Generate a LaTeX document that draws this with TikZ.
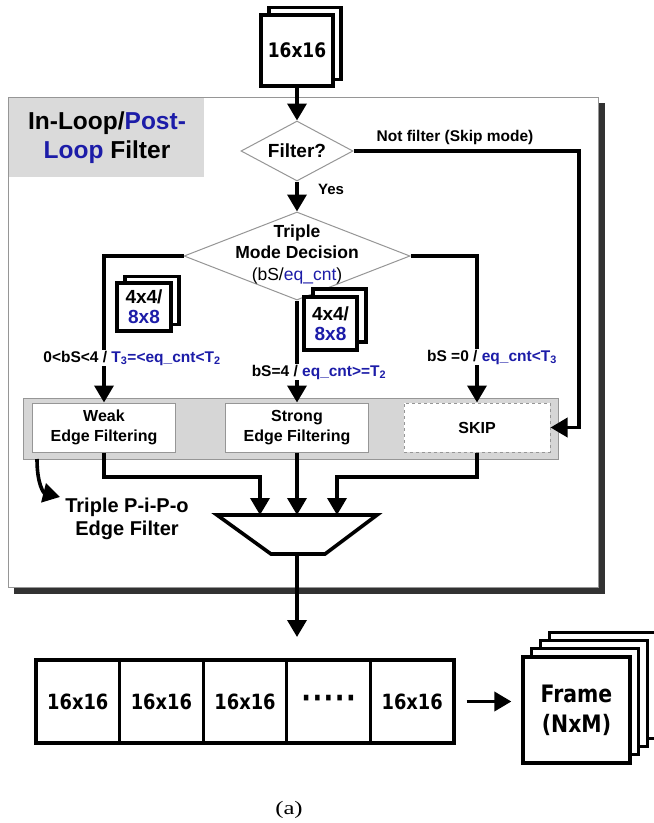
\documentclass[tikz,border=0pt]{standalone}
\usepackage{fontspec}
\setmainfont{Liberation Sans}
\newfontfamily\vfont[FakeStretch=0.85]{DejaVu Sans}
\newfontfamily\capfont[FakeStretch=1.3]{Liberation Serif}
\usetikzlibrary{arrows.meta,shapes.geometric}
\definecolor{blu}{RGB}{28,28,168}
\definecolor{bandgray}{RGB}{214,214,214}
\definecolor{titlegray}{RGB}{218,218,218}
\definecolor{edgegray}{RGB}{150,150,150}
\definecolor{shadowgray}{RGB}{50,50,50}
\tikzset{
  flow/.style={line width=3.6pt,-{Triangle[length=17pt,width=19pt]}},
  stk/.style={draw,line width=3.2pt,fill=white,inner sep=0pt,align=center},
  dia/.style={diamond,draw=edgegray,line width=1pt,fill=white,inner sep=0pt,aspect=2},
  fbox/.style={draw=edgegray,line width=1pt,fill=white,minimum width=143pt,minimum height=49pt,inner sep=0pt,align=center,font=\bfseries\fontsize{16}{20}\selectfont},
  lab/.style={fill=white,inner sep=1pt,font=\bfseries\fontsize{15.5}{18}\selectfont},
  cell/.style={draw,line width=3.2pt,fill=white,minimum width=83.6pt,minimum height=83pt,inner sep=0pt,font=\vfont\bfseries\fontsize{21}{25}\selectfont},
}
\begin{document}
\begin{tikzpicture}[x=1pt,y=-1pt]
\useasboundingbox (0,0) rectangle (654,823);
% outer box with shadow
\fill[shadowgray] (14,103) rectangle (605,594);
\draw[draw=edgegray,fill=white,line width=1pt] (8,97) rectangle (598,587);
\fill[titlegray] (8.5,97.5) rectangle (204,177);
\node[font=\bfseries\fontsize{24.5}{29}\selectfont,align=center] (title) at (107,138)
  {In-Loop/\textcolor{blu}{Post-}\\\textcolor{blu}{Loop} Filter};
% band
\draw[draw=edgegray,fill=bandgray,line width=1pt] (23,398) rectangle (558,459);
% top stack
\node[stk,minimum width=72pt,minimum height=72pt] (in16b) at (305,43.5) {};
\node[stk,minimum width=72pt,minimum height=71pt,font=\vfont\bfseries\fontsize{20}{24}\selectfont] (in16) at (297,50.5) {16x16};
% diamonds
\node[dia,minimum width=112pt,minimum height=60pt,font=\bfseries\fontsize{19}{22}\selectfont] (filt) at (297,151) {Filter?};
\node[dia,minimum width=226pt,minimum height=88pt] (tmd) at (297,256) {};
\node[align=center,font=\bfseries\fontsize{17.5}{21.5}\selectfont] (tmdtxt) at (297,254)
  {Triple\\Mode Decision\\{\mdseries(bS/\textcolor{blu}{eq\_cnt})}};
% small stacks
\node[stk,minimum width=54pt,minimum height=48pt] (s1b) at (152,300.5) {};
\node[stk,minimum width=54pt,minimum height=48pt,font=\bfseries\fontsize{19}{20}\selectfont] (s1) at (144,307) {4x4/\\\textcolor{blu}{8x8}};
\node[stk,minimum width=53pt,minimum height=53pt] (s2b) at (339.5,315.5) {};
\node[stk,minimum width=53pt,minimum height=53pt,font=\bfseries\fontsize{19}{20}\selectfont] (s2) at (330.5,323.5) {4x4/\\\textcolor{blu}{8x8}};
% filter boxes
\node[fbox] (weak) at (104,427.5) {Weak\\Edge Filtering};
\node[fbox] (strong) at (297,427.5) {Strong\\Edge Filtering};
\node[fbox,dashed,minimum width=146pt] (skip) at (477,427.5) {SKIP};
% mux
\draw[line width=3.6pt,fill=white] (217,515) -- (377,515) -- (325,554) -- (271,554) -- cycle;
\coordinate (m1) at (260,515);
\coordinate (m2) at (297,515);
\coordinate (m3) at (337,515);
\coordinate (mo) at (297,554);
\coordinate (rowin) at (297,637);
\coordinate (wj) at (104,477);
\coordinate (sj) at (477,477);
\coordinate (sk) at (579,151);
\coordinate (cs) at (37,459);
\coordinate (ce) at (60,497);
% connectors
\draw[flow] (in16.south) -- (filt.north);
\draw[flow] (filt.south) -- (tmd.north);
\draw[flow] (filt.east) -- (sk) |- (skip.east);
\draw[flow] (tmd.west) -| (weak.north);
\draw[flow] (tmd.south) -- (strong.north);
\draw[flow] (tmd.east) -| (skip.north);
\draw[flow] (weak.south) -- (wj) -| (m1);
\draw[flow] (strong.south) -- (m2);
\draw[flow] (skip.south) -- (sj) -| (m3);
\draw[flow] (mo) -- (rowin);
\draw[flow] (cs) .. controls (37,485) and (44,493) .. (ce);
% labels
\node[font=\bfseries\fontsize{15.5}{18}\selectfont] (nf) at (455,137) {Not filter (Skip mode)};
\node[font=\bfseries\fontsize{15}{18}\selectfont] (yes) at (331,189) {Yes};
\node[lab] (l1) at (132,358) {0<bS<4 / \textcolor{blu}{T\textsubscript{3}=<eq\_cnt<T\textsubscript{2}}};
\node[lab] (l2) at (319,372) {bS=4 / \textcolor{blu}{eq\_cnt>=T\textsubscript{2}}};
\node[lab] (l3) at (492,357) {bS =0 / \textcolor{blu}{eq\_cnt<T\textsubscript{3}}};
\node[align=center,font=\bfseries\fontsize{20}{23}\selectfont] (pipo) at (127,518.5) {Triple P-i-P-o\\Edge Filter};
% bottom row
\node[cell] (c1) at (77.8,701.5) {16x16};
\node[cell] (c2) at (161.4,701.5) {16x16};
\node[cell] (c3) at (245,701.5) {16x16};
\node[cell,font=\vfont\bfseries\fontsize{30}{30}\selectfont] (c4) at (328.6,701.5) {·\hspace{1.5pt}·\hspace{1.5pt}·\hspace{1.5pt}·\hspace{1.5pt}·};
\node[cell] (c5) at (412.2,701.5) {16x16};
% frame stack
\node[stk,minimum width=107pt,minimum height=106pt] (fr3) at (602.6,685.1) {};
\node[stk,minimum width=107pt,minimum height=106pt] (fr2) at (593.9,693.4) {};
\node[stk,minimum width=107pt,minimum height=106pt] (fr1) at (585.2,701.7) {};
\node[stk,minimum width=107pt,minimum height=106pt,font=\vfont\bfseries\fontsize{24}{30}\selectfont] (fr0) at (576.5,710) {Frame\\(NxM)};
\draw[flow,shorten <=11pt,shorten >=10pt] (c5.east) -- (c5.east -| fr0.west);
% caption
\node[font=\capfont\fontsize{19}{22}\selectfont] (cap) at (289,810) {(a)};
\end{tikzpicture}
\end{document}
